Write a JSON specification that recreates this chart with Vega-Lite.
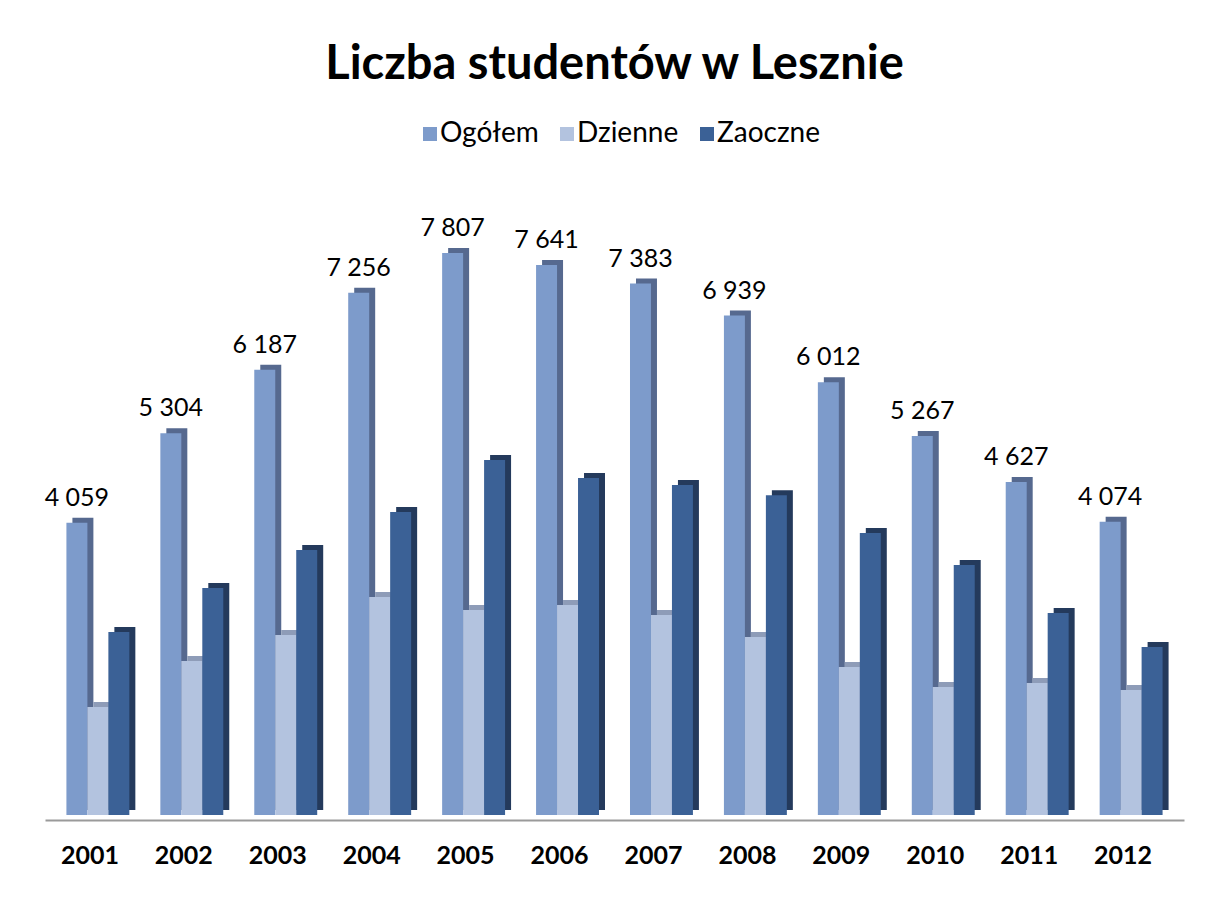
{
  "$schema": "https://vega.github.io/schema/vega-lite/v6.json",
  "width": 1139,
  "height": 655,
  "autosize": {"type": "none"},
  "padding": {"left": 45, "top": 160, "right": 36, "bottom": 109},
  "background": "white",
  "title": {
    "text": "Liczba studentów w Lesznie",
    "anchor": "middle",
    "frame": "group",
    "font": "Lato",
    "fontSize": 47,
    "fontWeight": "bold",
    "color": "#000000",
    "offset": 31
  },
  "data": {
    "values": [
      {"year": "2001", "series": "Ogółem", "value": 4059},
      {"year": "2001", "series": "Dzienne", "value": 1500},
      {"year": "2001", "series": "Zaoczne", "value": 2542},
      {"year": "2002", "series": "Ogółem", "value": 5304},
      {"year": "2002", "series": "Dzienne", "value": 2139},
      {"year": "2002", "series": "Zaoczne", "value": 3153},
      {"year": "2003", "series": "Ogółem", "value": 6187},
      {"year": "2003", "series": "Dzienne", "value": 2500},
      {"year": "2003", "series": "Zaoczne", "value": 3681},
      {"year": "2004", "series": "Ogółem", "value": 7256},
      {"year": "2004", "series": "Dzienne", "value": 3028},
      {"year": "2004", "series": "Zaoczne", "value": 4208},
      {"year": "2005", "series": "Ogółem", "value": 7807},
      {"year": "2005", "series": "Dzienne", "value": 2847},
      {"year": "2005", "series": "Zaoczne", "value": 4931},
      {"year": "2006", "series": "Ogółem", "value": 7641},
      {"year": "2006", "series": "Dzienne", "value": 2917},
      {"year": "2006", "series": "Zaoczne", "value": 4681},
      {"year": "2007", "series": "Ogółem", "value": 7383},
      {"year": "2007", "series": "Dzienne", "value": 2778},
      {"year": "2007", "series": "Zaoczne", "value": 4583},
      {"year": "2008", "series": "Ogółem", "value": 6939},
      {"year": "2008", "series": "Dzienne", "value": 2472},
      {"year": "2008", "series": "Zaoczne", "value": 4444},
      {"year": "2009", "series": "Ogółem", "value": 6012},
      {"year": "2009", "series": "Dzienne", "value": 2056},
      {"year": "2009", "series": "Zaoczne", "value": 3917},
      {"year": "2010", "series": "Ogółem", "value": 5267},
      {"year": "2010", "series": "Dzienne", "value": 1778},
      {"year": "2010", "series": "Zaoczne", "value": 3472},
      {"year": "2011", "series": "Ogółem", "value": 4627},
      {"year": "2011", "series": "Dzienne", "value": 1833},
      {"year": "2011", "series": "Zaoczne", "value": 2806},
      {"year": "2012", "series": "Ogółem", "value": 4074},
      {"year": "2012", "series": "Dzienne", "value": 1736},
      {"year": "2012", "series": "Zaoczne", "value": 2333}
    ]
  },
  "encoding": {
    "x": {
      "field": "year",
      "type": "nominal",
      "title": null,
      "scale": {"paddingInner": 0.33, "paddingOuter": 0.228},
      "axis": {
        "labelAngle": 0,
        "labelFont": "Lato",
        "labelFontSize": 25,
        "labelFontWeight": "bold",
        "labelColor": "#000000",
        "labelOffset": -8,
        "labelPadding": 23,
        "ticks": false,
        "domainColor": "#9a9a9a",
        "domainWidth": 2,
        "offset": 5
      }
    },
    "y": {
      "field": "value",
      "type": "quantitative",
      "scale": {"domain": [0, 9100], "nice": false},
      "axis": null
    }
  },
  "layer": [
    {
      "mark": {"type": "bar", "yOffset": -5},
      "encoding": {
        "xOffset": {
          "field": "series",
          "type": "nominal",
          "scale": {"domain": ["Ogółem", "Dzienne", "Zaoczne"], "paddingInner": 0, "paddingOuter": 0, "range": [6, 68.93]}
        },
        "color": {
          "condition": [
            {"test": "datum.series === 'Ogółem'", "value": "#56698f"},
            {"test": "datum.series === 'Dzienne'", "value": "#8e9cb8"}
          ],
          "value": "#243a5c"
        }
      }
    },
    {
      "mark": {"type": "bar"},
      "encoding": {
        "xOffset": {
          "field": "series",
          "type": "nominal",
          "scale": {"domain": ["Ogółem", "Dzienne", "Zaoczne"], "paddingInner": 0, "paddingOuter": 0}
        },
        "color": {
          "field": "series",
          "type": "nominal",
          "scale": {
            "domain": ["Ogółem", "Dzienne", "Zaoczne"],
            "range": ["#7d9bcb", "#b3c3df", "#3b6196"]
          },
          "legend": {
            "title": null,
            "orient": "none",
            "direction": "horizontal",
            "legendX": 371,
            "legendY": -40,
            "symbolType": "square",
            "symbolSize": 196,
            "symbolStrokeWidth": 0,
            "labelFont": "Lato",
            "labelFontSize": 28,
            "labelColor": "#000000",
            "labelOffset": -4,
            "columnPadding": 14
          }
        }
      }
    },
    {
      "transform": [{"filter": "datum.series === 'Ogółem'"}],
      "mark": {
        "type": "text",
        "font": "Lato",
        "fontSize": 25,
        "color": "#000000",
        "baseline": "alphabetic",
        "dx": -21,
        "dy": -17
      },
      "encoding": {
        "text": {"field": "value", "type": "quantitative", "format": ",d"}
      }
    }
  ],
  "resolve": {"scale": {"xOffset": "independent"}},
  "config": {
    "view": {"stroke": null},
    "locale": {
      "number": {
        "decimal": ",",
        "thousands": " ",
        "grouping": [3],
        "currency": ["", " zł"]
      }
    }
  }
}
